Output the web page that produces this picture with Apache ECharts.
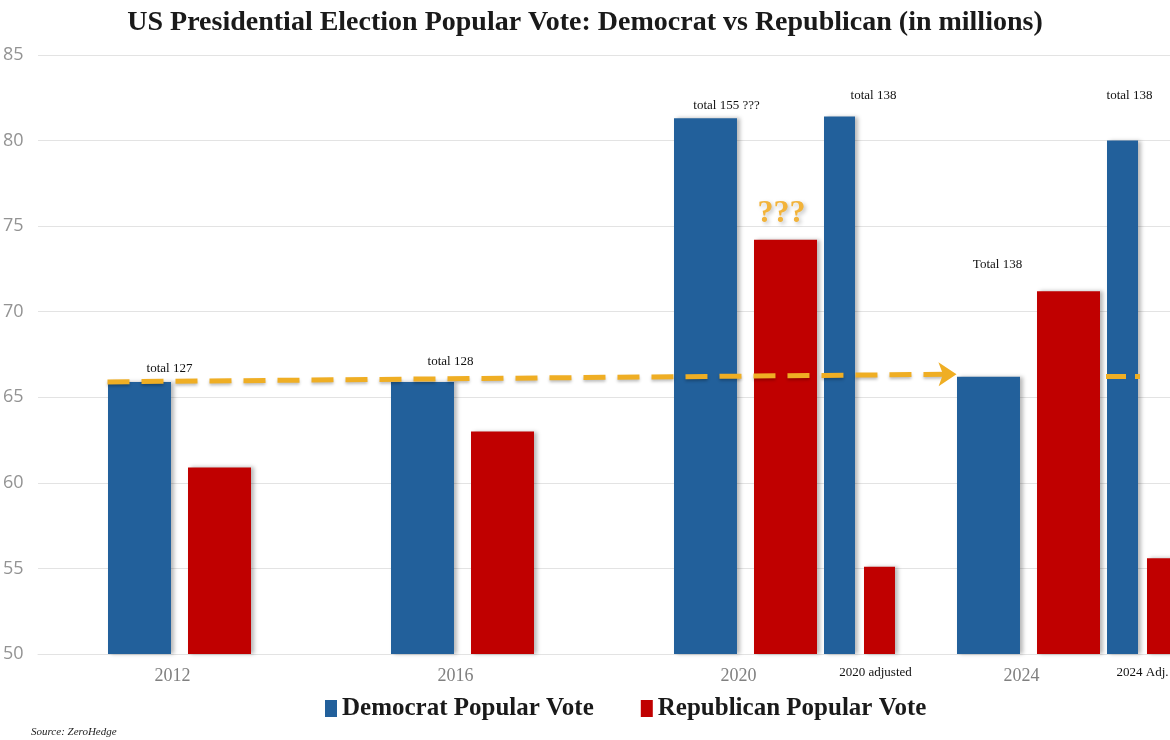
<!DOCTYPE html>
<html>
<head>
<meta charset="utf-8">
<script src="https://cdn.jsdelivr.net/npm/echarts@6/dist/echarts.min.js"></script>
<style>
  html, body { margin: 0; padding: 0; background: #fff; }
  #chart { width: 1170px; height: 740px; }
</style>
</head>
<body>
<div id="chart"></div>
<script>
// data (millions of votes)
const categories = ['2012', '2016', '2020', '2024'];
const adjCategories = ['', ' ', '2020 adjusted', '2024 Adj.'];
const demVotes = [65.9, 65.9, 81.3, 66.2];
const repVotes = [60.9, 63.0, 74.2, 71.2];
const demAdjVotes = [null, null, 81.4, 80.0];
const repAdjVotes = [null, null, 55.1, 55.6];
const totalLabels = ['total 127', 'total 128', 'total 155 ???', 'Total 138'];
const adjTotalLabels = ['', '', 'total 138', 'total 138'];
const yMin = 50, yMax = 85, yStep = 5;

// label placement (style only)
const demLabelPos = [
  { offset: [30, 0], distance: 7 },
  { offset: [28, 0], distance: 14 },
  { offset: [21, 0], distance: 6 },
  { offset: [9, 0], distance: 106 }
];
const adjLabelPos = [null, null, { offset: [34, 0], distance: 15 }, { offset: [7, 0], distance: 38 }];

const DEM = '#22609b';
const REP = '#c00000';
const GOLD = '#efae24';
const serif = '"Liberation Serif", "DejaVu Serif", serif';

const barShadow = { shadowBlur: 4, shadowColor: 'rgba(0,0,0,0.28)', shadowOffsetX: 3, shadowOffsetY: 0 };

const chart = echarts.init(document.getElementById('chart'), null, { renderer: 'canvas' });

const yAxisBase = {
  type: 'value', min: yMin, max: yMax, interval: yStep
};
const gridBase = { top: 55, bottom: 86, outerBoundsMode: 'none', containLabel: false };

const option = {
  animation: false,
  title: [
    {
      text: 'US Presidential Election Popular Vote: Democrat vs Republican (in millions)',
      left: 'center', top: 4,
      textStyle: { fontFamily: serif, fontWeight: 'bold', fontSize: 28, color: '#1a1a1a' }
    },
    {
      text: 'Source: ZeroHedge',
      left: 26, top: 722,
      textStyle: { fontFamily: serif, fontStyle: 'italic', fontWeight: 'normal', fontSize: 11, color: '#222' }
    }
  ],
  legend: {
    bottom: 14, left: 320,
    icon: 'rect', itemWidth: 12, itemHeight: 17, itemGap: 47,
    data: ['Democrat Popular Vote', 'Republican Popular Vote'],
    textStyle: { fontFamily: serif, fontWeight: 'bold', fontSize: 25, color: '#1a1a1a' }
  },
  grid: [
    Object.assign({ left: 38, width: 1132 }, gridBase),
    Object.assign({ left: 152, width: 1132 }, gridBase),
    Object.assign({ left: -34, width: 1132 }, gridBase),
    Object.assign({ left: 1106, width: 34 }, gridBase)
  ],
  xAxis: [
    {
      gridIndex: 0, type: 'category', data: categories,
      axisLine: { lineStyle: { color: '#e3e3e3' } },
      axisTick: { show: false },
      axisLabel: { margin: 13, fontFamily: serif, fontSize: 18, color: '#808080', padding: [0, 14, 0, 0] }
    },
    {
      gridIndex: 1, type: 'category', data: adjCategories,
      axisLine: { show: false }, axisTick: { show: false },
      axisLabel: {
        margin: 12, fontFamily: serif, fontSize: 13, color: '#111',
        formatter: v => v === '2020 adjusted' ? '{shift|' + v + '}' : v,
        rich: { shift: { fontFamily: serif, fontSize: 13, color: '#111', padding: [0, 0, 0, 32] } }
      }
    },
    { gridIndex: 2, type: 'category', data: categories, show: false },
    { gridIndex: 3, type: 'category', data: [''], show: false }
  ],
  yAxis: [
    Object.assign({}, yAxisBase, {
      gridIndex: 0,
      axisLine: { show: false }, axisTick: { show: false },
      splitLine: { lineStyle: { color: '#e3e3e3', width: 1 } },
      axisLabel: { align: 'left', margin: 35, fontFamily: '"Open Sans", sans-serif', fontSize: 18, color: '#939393' }
    }),
    Object.assign({}, yAxisBase, { gridIndex: 1, show: false }),
    Object.assign({}, yAxisBase, { gridIndex: 2, show: false }),
    Object.assign({}, yAxisBase, { gridIndex: 3, show: false })
  ],
  series: [
    {
      name: 'Democrat Popular Vote', type: 'bar', xAxisIndex: 0, yAxisIndex: 0,
      barWidth: 63, barGap: '27%',
      itemStyle: Object.assign({ color: DEM }, barShadow),
      label: { show: true, position: 'top', fontFamily: serif, fontSize: 13, color: '#111' },
      data: demVotes.map((v, i) => ({
        value: v,
        label: { formatter: totalLabels[i], offset: demLabelPos[i].offset, distance: demLabelPos[i].distance }
      }))
    },
    {
      name: 'Republican Popular Vote', type: 'bar', xAxisIndex: 0, yAxisIndex: 0,
      barWidth: 63, barGap: '27%',
      itemStyle: Object.assign({ color: REP }, barShadow),
      data: repVotes.map((v, i) => i === 2 ? {
        value: v,
        label: {
          show: true, position: 'top', distance: 10, offset: [-4, 0], formatter: '???',
          fontFamily: serif, fontWeight: 'bold', fontSize: 32, color: '#f2b33a',
          textShadowColor: 'rgba(0,0,0,0.25)', textShadowBlur: 4, textShadowOffsetX: 2, textShadowOffsetY: 2
        }
      } : v)
    },
    {
      name: 'Democrat Popular Vote', type: 'bar', xAxisIndex: 1, yAxisIndex: 1,
      barWidth: 31, barGap: '29%',
      itemStyle: Object.assign({ color: DEM }, barShadow),
      label: { show: true, position: 'top', fontFamily: serif, fontSize: 13, color: '#111' },
      data: demAdjVotes.map((v, i) => v === null ? null : ({
        value: v,
        label: { formatter: adjTotalLabels[i], offset: adjLabelPos[i].offset, distance: adjLabelPos[i].distance }
      }))
    },
    {
      name: 'Republican Popular Vote', type: 'bar', xAxisIndex: 1, yAxisIndex: 1,
      barWidth: 31, barGap: '29%',
      itemStyle: Object.assign({ color: REP }, barShadow),
      data: repAdjVotes
    },
    {
      // dashed arrow from the 2012 Democrat bar to the 2024 one
      name: 'arrow', type: 'line', xAxisIndex: 2, yAxisIndex: 2, data: [],
      z: 10, silent: true,
      markLine: {
        silent: true, symbol: ['none', 'arrow'], symbolSize: [18, 18],
        label: { show: false },
        lineStyle: {
          color: GOLD, width: 5, type: [22, 12], opacity: 1,
          shadowColor: 'rgba(0,0,0,0.25)', shadowBlur: 3, shadowOffsetY: 2
        },
        itemStyle: { color: GOLD },
        data: [[
          { coord: [categories[0], demVotes[0]] },
          { coord: [categories[3], demVotes[3] + 0.15] }
        ]]
      }
    },
    {
      name: 'dash', type: 'line', xAxisIndex: 3, yAxisIndex: 3, data: [],
      z: 10, silent: true,
      markLine: {
        silent: true, symbol: ['none', 'none'],
        label: { show: false },
        lineStyle: { color: GOLD, width: 5, type: [20, 9], opacity: 1 },
        data: [{ yAxis: demVotes[3] }]
      }
    }
  ]
};

chart.setOption(option);
</script>
</body>
</html>
